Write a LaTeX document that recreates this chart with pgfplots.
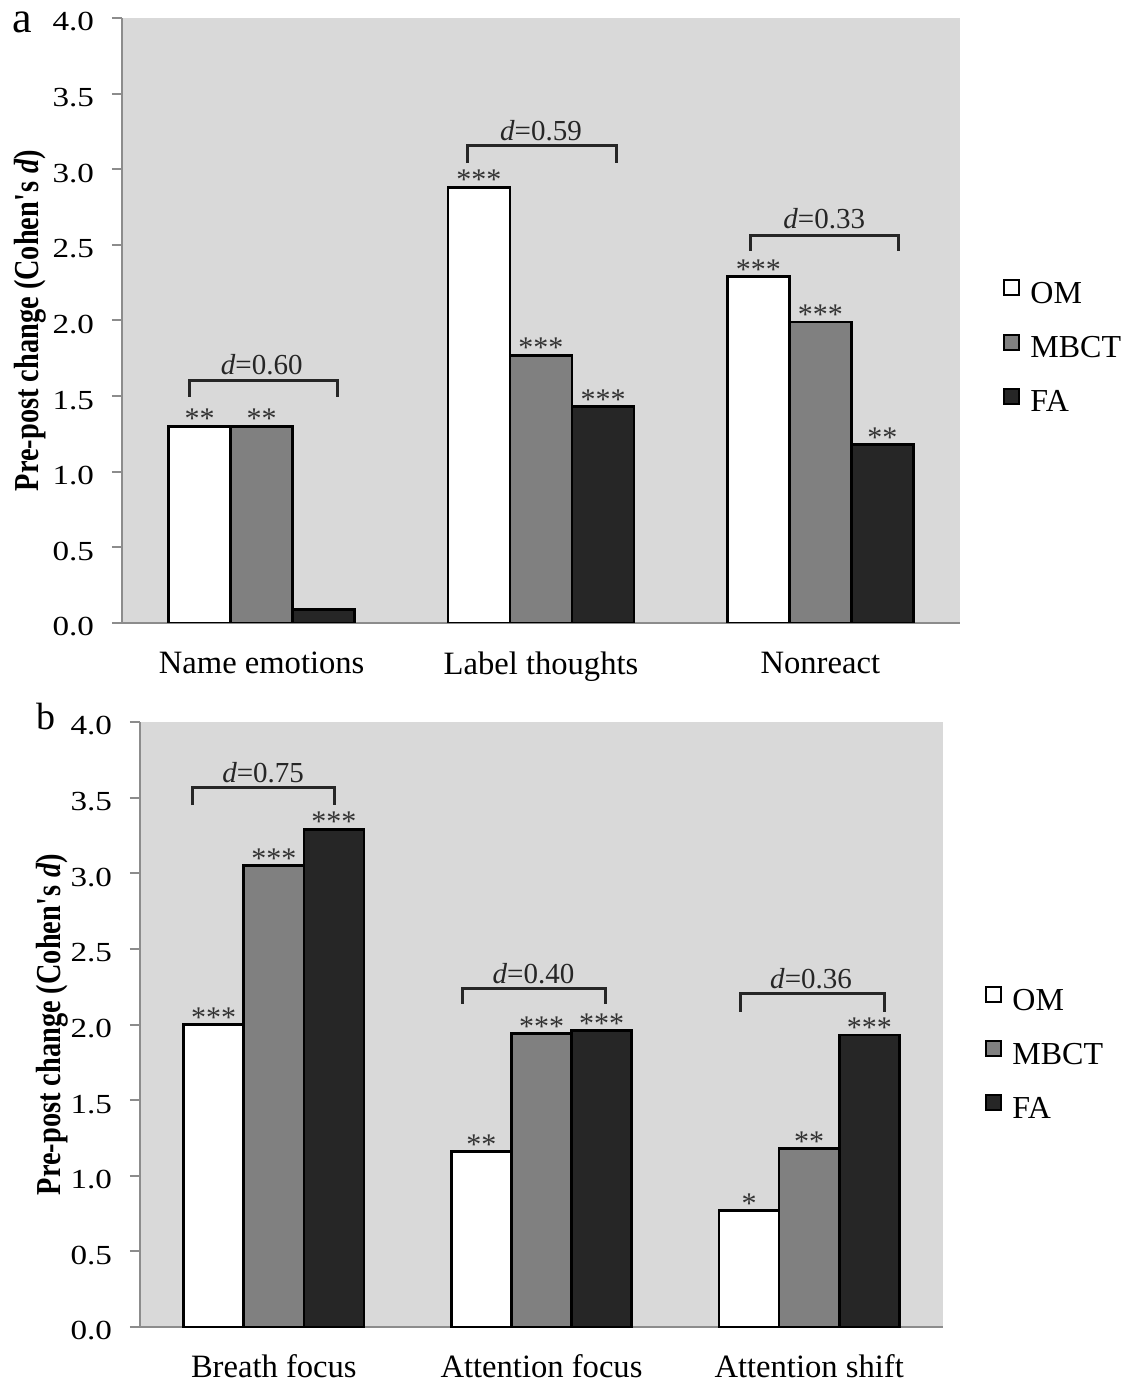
\documentclass[border=0pt]{standalone}
\usepackage{fontspec}
\setmainfont{Liberation Serif}
\newfontfamily\tickfont[FakeStretch=1.2]{Liberation Serif}
\newfontfamily\ylabfont[FakeStretch=0.81]{Liberation Serif}
\usepackage{pgfplots}
\pgfplotsset{compat=1.18}
\definecolor{bg}{RGB}{217,217,217}
\definecolor{midg}{RGB}{128,128,128}
\definecolor{dark}{RGB}{38,38,38}
\definecolor{axg}{RGB}{140,140,140}

\tikzset{
  bracket/.style={line width=1.5pt, black!85, line join=miter},
  dlab/.style={anchor=base, font=\fontsize{14.5}{16}\selectfont, inner sep=0pt, text=black!85},
}

\pgfplotsset{
  mystyle/.style={
    scale only axis,
    height=302.5pt,
    ymin=0, ymax=4,
    xmin=-0.5, xmax=2.5,
    axis lines*=left,
    axis line style={axg, line width=1pt},
    axis background/.style={fill=bg},
    ytick={0,0.5,1,1.5,2,2.5,3,3.5,4},
    tick align=outside,
    major tick length=5pt,
    ytick style={axg, line width=1pt},
    xtick style={draw=none},
    xtick={0,1,2},
    /pgf/number format/assume math mode=true,
    yticklabel style={font=\tickfont\fontsize{13.8}{16}\selectfont, xshift=-5.5pt, yshift=-2pt, /pgf/number format/.cd, fixed, fixed zerofill, precision=1},
    xticklabel style={font=\fontsize{16.3}{19}\selectfont, yshift=-6pt},
    ybar,
    point meta=explicit symbolic,
    nodes near coords,
    every node near coord/.append style={font=\fontsize{15}{17}\selectfont, inner sep=0pt, anchor=south, yshift=-2pt, text=black!80},
    legend image code/.code={\draw[#1, line width=1pt] (0pt,-0.5pt) rectangle (7.5pt,7pt);},
    legend style={draw=none, fill=none, inner sep=0pt, font=\fontsize{16}{18}\selectfont,
      nodes={inner sep=0pt}, column sep=5pt, row sep=13.5pt, anchor=west},
    legend cell align=left,
    ylabel style={font=\ylabfont\fontsize{17.5}{20}\selectfont\bfseries, anchor=center},
    ylabel={Pre-post change (Cohen\textquotesingle s \textit{d})},
  },
}

\begin{document}
\begin{tikzpicture}
\useasboundingbox (0,0) rectangle (562pt,691pt);

% ---------------- Panel a ----------------
\begin{axis}[mystyle,
  at={(61pt,379.5pt)}, anchor=south west,
  width=419pt,
  bar width=0.222,
  xticklabels={Name emotions, Label thoughts, Nonreact},
  ylabel style={at={(axis description cs:-0.1098,0.5)}},
  legend style={at={(axis description cs:1,0.456)}, xshift=21.5pt},
]
\addplot[fill=white, draw=black, line width=1.4pt, bar shift=-0.222]
  coordinates {(0,1.30) [**] (1,2.88) [***] (2,2.29) [***]};
\addplot[fill=midg, draw=black, line width=1.4pt, bar shift=0]
  coordinates {(0,1.30) [**] (1,1.77) [***] (2,1.99) [***]};
\addplot[fill=dark, draw=black, line width=1.4pt, bar shift=0.222]
  coordinates {(0,0.09) [{}] (1,1.43) [***] (2,1.18) [**]};
\legend{OM, MBCT, FA}
\draw[bracket] (axis cs:-0.258,1.496) |- (axis cs:0.272,1.602) -- (axis cs:0.272,1.496);
\draw[bracket] (axis cs:0.738,3.04) |- (axis cs:1.269,3.156) -- (axis cs:1.269,3.04);
\draw[bracket] (axis cs:1.749,2.462) |- (axis cs:2.280,2.565) -- (axis cs:2.280,2.462);
\node[dlab] at (axis cs:0.0,1.64) {\textit{d}=0.60};
\node[dlab] at (axis cs:1.0,3.19) {\textit{d}=0.59};
\node[dlab] at (axis cs:2.014,2.61) {\textit{d}=0.33};
\end{axis}

% ---------------- Panel b ----------------
\begin{axis}[mystyle,
  at={(70pt,27.5pt)}, anchor=south west,
  width=401.5pt,
  bar width=0.2247,
  xticklabels={Breath focus, Attention focus, Attention shift},
  xticklabel style={yshift=1pt},
  ylabel style={at={(axis description cs:-0.1096,0.5)}},
  legend style={at={(axis description cs:1,0.452)}, xshift=21pt},
]
\addplot[fill=white, draw=black, line width=1.4pt, bar shift=-0.2247]
  coordinates {(0,2.00) [***] (1,1.16) [**] (2,0.77) [*]};
\addplot[fill=midg, draw=black, line width=1.4pt, bar shift=0]
  coordinates {(0,3.05) [***] (1,1.94) [***] (2,1.18) [**]};
\addplot[fill=dark, draw=black, line width=1.4pt, bar shift=0.2247]
  coordinates {(0,3.29) [***] (1,1.96) [***] (2,1.93) [***]};
\legend{OM, MBCT, FA}
\draw[bracket] (axis cs:-0.303,3.45) |- (axis cs:0.228,3.564) -- (axis cs:0.228,3.45);
\draw[bracket] (axis cs:0.704,2.136) |- (axis cs:1.239,2.241) -- (axis cs:1.239,2.136);
\draw[bracket] (axis cs:1.745,2.083) |- (axis cs:2.281,2.202) -- (axis cs:2.281,2.083);
\node[dlab] at (axis cs:-0.04,3.597) {\textit{d}=0.75};
\node[dlab] at (axis cs:0.97,2.274) {\textit{d}=0.40};
\node[dlab] at (axis cs:2.007,2.235) {\textit{d}=0.36};
\end{axis}

\node[anchor=base west, inner sep=0pt, font=\fontsize{22}{24}\selectfont] at (6pt,674.5pt) {a};
\node[anchor=base west, inner sep=0pt, font=\fontsize{19}{22}\selectfont] at (18pt,326pt) {b};
\end{tikzpicture}
\end{document}
